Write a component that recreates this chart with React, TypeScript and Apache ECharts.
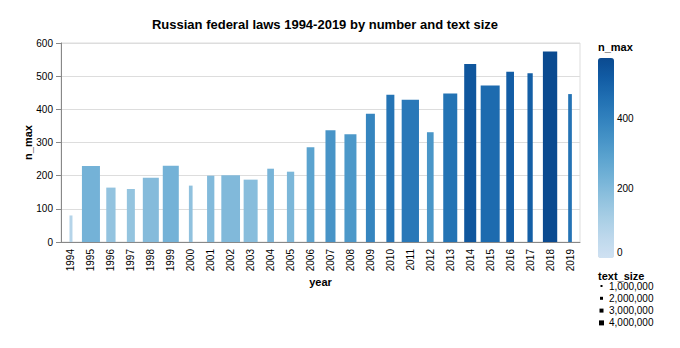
import React, { useEffect, useRef } from "react";
import * as echarts from "echarts";

const years = ["1994","1995","1996","1997","1998","1999","2000","2001","2002","2003","2004","2005","2006","2007","2008","2009","2010","2011","2012","2013","2014","2015","2016","2017","2018","2019"];
const nMax = [80, 229, 164, 160, 194, 230, 170, 200, 201, 188, 221, 212, 286, 337, 325, 387, 444, 429, 331, 448, 537, 472, 513, 509, 574, 446];
const textSize = [260000, 4240000, 1930000, 1590000, 3710000, 3710000, 450000, 1400000, 4420000, 3180000, 1240000, 1400000, 1510000, 2120000, 2650000, 1850000, 1590000, 4050000, 1240000, 3180000, 2650000, 4500000, 1510000, 870000, 3260000, 450000];
const colorTicks = [0, 200, 400];
const sizeTicks = [1000000, 2000000, 3000000, 4000000];
const sizeTickLabels = ["1,000,000", "2,000,000", "3,000,000", "4,000,000"];
const blues = ["#cfe1f2", "#bed8ec", "#a8cee5", "#8fc1de", "#74b2d7", "#5ba3cf", "#4592c6", "#3181bd", "#206fb2", "#125ca4", "#0a4a90"];

const FONT = "'Liberation Sans', Arial, sans-serif";

export default function App() {
  const ref = useRef<HTMLDivElement>(null);
  useEffect(() => {
    if (!ref.current) return;
    document.body.style.margin = "0";
    const chart = echarts.init(ref.current, null, { renderer: "svg" });
    const tsMax = Math.max(...textSize);
    const nTop = Math.max(...nMax);
    const minBand = 2;
    const maxBand = 19;
    const widthOf = (ts: number) => minBand + (maxBand - minBand) * ts / tsMax;

    const legendTop = 58;
    const legendH = 200;
    const legendLeft = 598;

    const graphics: any[] = [
      { type: "text", left: legendLeft, top: 41, style: { text: "n_max", font: `bold 11px ${FONT}`, fill: "#000" } },
      { type: "text", left: legendLeft, top: 270, style: { text: "text_size", font: `bold 11px ${FONT}`, fill: "#000" } },
    ];
    colorTicks.forEach((v, i) => {
      const y = legendTop + legendH - (v / nTop) * legendH;
      graphics.push({
        type: "text",
        x: legendLeft + 19,
        y: i === 0 ? y - 1 : y,
        style: { text: String(v), font: `10px ${FONT}`, fill: "#000", verticalAlign: i === 0 ? "bottom" : "middle", align: "left" },
      });
    });
    sizeTicks.forEach((v, i) => {
      const cy = 286 + i * 12.3;
      const s = 1 + v / 1000000;
      graphics.push({ type: "rect", shape: { x: 601.5 - s / 2, y: cy - s / 2, width: s, height: s }, style: { fill: "#000" } });
      graphics.push({ type: "text", x: 609, y: cy, style: { text: sizeTickLabels[i], font: `10px ${FONT}`, fill: "#000", verticalAlign: "middle", align: "left" } });
    });

    chart.setOption({
      animation: false,
      backgroundColor: "#fff",
      title: {
        text: "Russian federal laws 1994-2019 by number and text size",
        left: 320,
        textAlign: "center",
        top: 13,
        textStyle: { fontFamily: FONT, fontSize: 13, fontWeight: "bold", color: "#000" },
      },
      grid: { left: 61, right: 100, top: 43, bottom: 106, show: true, borderColor: "#ddd", borderWidth: 1, containLabel: false },
      xAxis: {
        type: "category",
        data: years,
        name: "year",
        nameLocation: "middle",
        nameGap: 34,
        nameMoveOverlap: false,
        nameTextStyle: { fontFamily: FONT, fontSize: 11, fontWeight: "bold", color: "#000" },
        axisLine: { lineStyle: { color: "#888" } },
        axisTick: { alignWithLabel: true, length: 5, lineStyle: { color: "#888" } },
        axisLabel: { rotate: 90, fontFamily: FONT, fontSize: 10, color: "#000", margin: 7, interval: 0 },
        splitLine: { show: false },
      },
      yAxis: {
        type: "value",
        min: 0,
        max: 600,
        interval: 100,
        name: "n_max",
        nameLocation: "middle",
        nameGap: 28,
        nameMoveOverlap: false,
        nameTextStyle: { fontFamily: FONT, fontSize: 11, fontWeight: "bold", color: "#000" },
        axisLine: { show: true, lineStyle: { color: "#888" } },
        axisTick: { show: true, length: 5, lineStyle: { color: "#888" } },
        axisLabel: { fontFamily: FONT, fontSize: 10, color: "#000", margin: 8 },
        splitLine: { lineStyle: { color: "#ddd" } },
      },
      visualMap: {
        type: "continuous",
        min: 0,
        max: nTop,
        dimension: 1,
        seriesIndex: 0,
        calculable: false,
        realtime: false,
        left: legendLeft,
        top: legendTop,
        itemWidth: 16,
        itemHeight: legendH,
        padding: 0,
        text: null,
        showLabel: false,
        inRange: { color: blues },
      },
      series: [
        {
          type: "custom",
          encode: { x: 0, y: 1 },
          data: years.map((_, i) => [i, nMax[i], textSize[i]]),
          renderItem: (params: any, api: any) => {
            const idx = api.value(0);
            const n = api.value(1);
            const ts = api.value(2);
            const top = api.coord([idx, n]);
            const base = api.coord([idx, 0]);
            const w = widthOf(ts);
            return {
              type: "rect",
              shape: { x: top[0] - w / 2, y: top[1], width: w, height: base[1] - top[1] },
              style: { fill: api.visual("color") },
            };
          },
        },
      ],
      graphic: graphics,
    });
    return () => chart.dispose();
  }, []);
  return <div ref={ref} style={{ width: 680, height: 348 }} />;
}
